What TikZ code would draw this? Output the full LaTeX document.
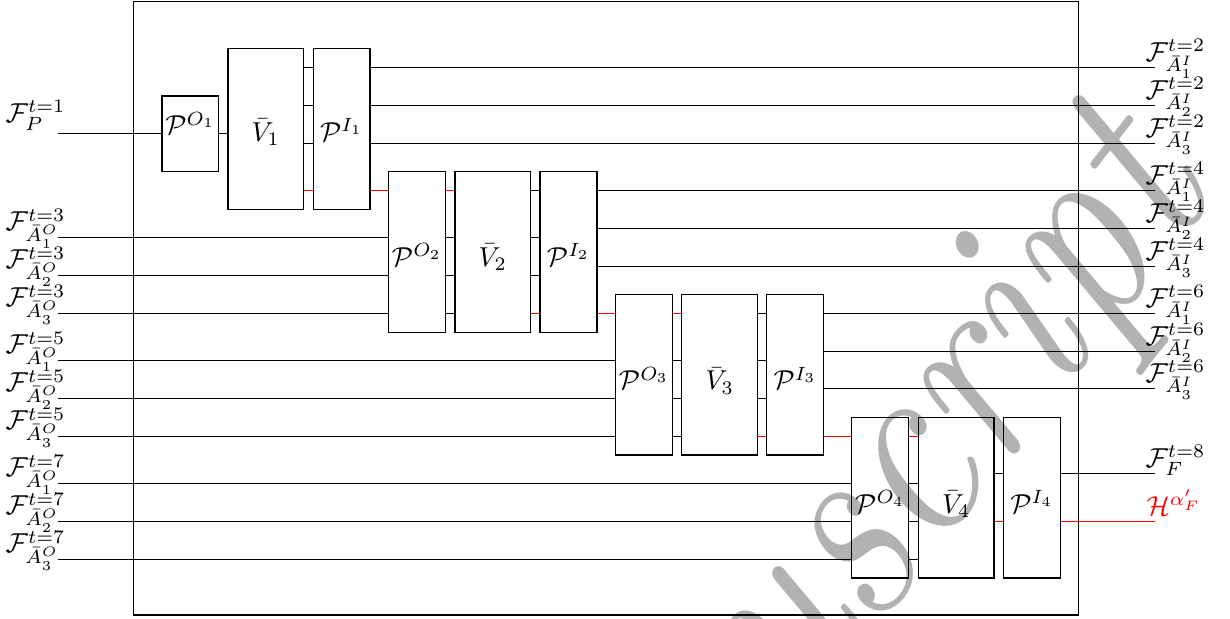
\documentclass[tikz,border=0pt]{standalone}
\usepackage{fontspec}
\usetikzlibrary{fit}
\begin{document}
\begin{tikzpicture}[x=0.365pt,y=-0.365pt,
  blk/.style={draw, inner sep=0pt},
  txt/.style={inner sep=0pt, anchor=base},
  lab/.style={inner sep=0pt},
  hid/.style={red}]
\useasboundingbox (0,0) rectangle (1230,619);
% watermark
\begin{scope}
\clip (0,0) rectangle (1230,619);
\node[rotate=52, xscale=0.85, anchor=base west, inner sep=0pt, text=black!30,
  font=\fontsize{100}{100}\selectfont\itshape\addfontfeature{FakeBold=1.5}] (wm) at (798,730) {uscript};
\end{scope}
% frame
\node[draw, inner sep=0pt, fit={(133.3,1.7)(1078.5,615)}] (frame) {};
% boxes
\node[blk, fit={(162,96)(218.7,171.7)}] (PO1) {};
\node[blk, fit={(228,48.3)(303.7,209.3)}] (V1) {};
\node[blk, fit={(313.3,48.3)(370,209.3)}] (PI1) {};
\node[blk, fit={(388.3,171.7)(445.7,332.3)}] (PO2) {};
\node[blk, fit={(455,171.7)(530.7,332.3)}] (V2) {};
\node[blk, fit={(540,171.7)(597,332.3)}] (PI2) {};
\node[blk, fit={(615.7,294.3)(672.3,455)}] (PO3) {};
\node[blk, fit={(681.7,294.3)(757.7,455)}] (V3) {};
\node[blk, fit={(766.7,294.3)(823.7,455)}] (PI3) {};
\node[blk, fit={(851.7,417.3)(908.7,578)}] (PO4) {};
\node[blk, fit={(918.3,417.3)(994,578)}] (V4) {};
\node[blk, fit={(1003.3,417.3)(1060.3,578)}] (PI4) {};
% box texts
\node[txt] at (190.35,135) {$\mathcal{P}^{O_1}$};
\node[txt] at (265.85,141.5) {$\bar{V}_1$};
\node[txt] at (341.65,141.5) {$\mathcal{P}^{I_1}$};
\node[txt] at (417,266.5) {$\mathcal{P}^{O_2}$};
\node[txt] at (492.85,266.5) {$\bar{V}_2$};
\node[txt] at (568.5,266.5) {$\mathcal{P}^{I_2}$};
\node[txt] at (644,390) {$\mathcal{P}^{O_3}$};
\node[txt] at (719.7,390) {$\bar{V}_3$};
\node[txt] at (795.2,390) {$\mathcal{P}^{I_3}$};
\node[txt] at (880.2,513.5) {$\mathcal{P}^{O_4}$};
\node[txt] at (956.15,513.5) {$\bar{V}_4$};
\node[txt] at (1031.8,513.5) {$\mathcal{P}^{I_4}$};
% input coordinates and labels
\coordinate (iP) at (58.3,133.5);
\node[lab, anchor=base east] at (66,122.7) {$\mathcal{F}^{t=1}_{P}$};
\foreach \t/\ya/\yb/\yc in {3/237.5/275.5/313.5, 5/360.5/398.5/436.5, 7/483.5/521.5/559.5}{
  \coordinate (i\t a) at (58.3,\ya);
  \coordinate (i\t b) at (58.3,\yb);
  \coordinate (i\t c) at (58.3,\yc);
  \node[lab, anchor=base east] at (66,\ya-6.5) {$\mathcal{F}^{t=\t}_{\bar{A}^O_1}$};
  \node[lab, anchor=base east] at (66,\yb-6.5) {$\mathcal{F}^{t=\t}_{\bar{A}^O_2}$};
  \node[lab, anchor=base east] at (66,\yc-6.5) {$\mathcal{F}^{t=\t}_{\bar{A}^O_3}$};
}
% output coordinates and labels
\foreach \t/\ya/\yb/\yc in {2/67.5/105.5/143.5, 4/190.5/228.5/266.5, 6/313.5/351.5/388.5}{
  \coordinate (o\t a) at (1154.5,\ya);
  \coordinate (o\t b) at (1154.5,\yb);
  \coordinate (o\t c) at (1154.5,\yc);
  \node[lab, anchor=base west] at (1145,\ya-6) {$\mathcal{F}^{t=\t}_{\bar{A}^I_1}$};
  \node[lab, anchor=base west] at (1145,\yb-6) {$\mathcal{F}^{t=\t}_{\bar{A}^I_2}$};
  \node[lab, anchor=base west] at (1145,\yc-6) {$\mathcal{F}^{t=\t}_{\bar{A}^I_3}$};
}
\coordinate (oF) at (1154.5,473.5);
\coordinate (oH) at (1154.5,521.5);
\node[lab, anchor=base west] at (1145,467.7) {$\mathcal{F}^{t=8}_{F}$};
\node[lab, anchor=base west, text=red] at (1146,515.3) {$\mathcal{H}^{\alpha'_F}$};
% group 1 wires
\draw (iP) -- (PO1.west |- iP);
\draw (PO1.east |- iP) -- (V1.west |- iP);
\foreach \y in {67.5,105.5,143.5}{
  \draw (V1.east |- 0,\y) -- (PI1.west |- 0,\y);
}
\draw (PI1.east |- o2a) -- (o2a);
\draw (PI1.east |- o2b) -- (o2b);
\draw (PI1.east |- o2c) -- (o2c);
\draw[hid] (V1.east |- 0,190.5) -- (PI1.west |- 0,190.5);
\draw[hid] (PI1.east |- 0,190.5) -- (PO2.west |- 0,190.5);
% group 2 wires
\draw (i3a) -- (PO2.west |- i3a);
\draw (i3b) -- (PO2.west |- i3b);
\draw (i3c) -- (PO2.west |- i3c);
\draw[hid] (PO2.east |- 0,190.5) -- (V2.west |- 0,190.5);
\foreach \y in {237.5,275.5,313.5}{
  \draw (PO2.east |- 0,\y) -- (V2.west |- 0,\y);
}
\foreach \y in {190.5,237.5,275.5}{
  \draw (V2.east |- 0,\y) -- (PI2.west |- 0,\y);
}
\draw[hid] (V2.east |- 0,313.5) -- (PI2.west |- 0,313.5);
\draw (PI2.east |- o4a) -- (o4a);
\draw (PI2.east |- o4b) -- (o4b);
\draw (PI2.east |- o4c) -- (o4c);
\draw[hid] (PI2.east |- 0,313.5) -- (PO3.west |- 0,313.5);
% group 3 wires
\draw (i5a) -- (PO3.west |- i5a);
\draw (i5b) -- (PO3.west |- i5b);
\draw (i5c) -- (PO3.west |- i5c);
\draw[hid] (PO3.east |- 0,313.5) -- (V3.west |- 0,313.5);
\foreach \y in {360.5,398.5,436.5}{
  \draw (PO3.east |- 0,\y) -- (V3.west |- 0,\y);
}
\foreach \y in {313.5,360.5,398.5}{
  \draw (V3.east |- 0,\y) -- (PI3.west |- 0,\y);
}
\draw[hid] (V3.east |- 0,436.5) -- (PI3.west |- 0,436.5);
\draw (PI3.east |- o6a) -- (o6a);
\draw (PI3.east |- o6b) -- (o6b);
\draw (PI3.east |- o6c) -- (o6c);
\draw[hid] (PI3.east |- 0,436.5) -- (PO4.west |- 0,436.5);
% group 4 wires
\draw (i7a) -- (PO4.west |- i7a);
\draw (i7b) -- (PO4.west |- i7b);
\draw (i7c) -- (PO4.west |- i7c);
\draw[hid] (PO4.east |- 0,436.5) -- (V4.west |- 0,436.5);
\foreach \y in {483.5,521.5,559.5}{
  \draw (PO4.east |- 0,\y) -- (V4.west |- 0,\y);
}
\draw (V4.east |- oF) -- (PI4.west |- oF);
\draw[hid] (V4.east |- oH) -- (PI4.west |- oH);
\draw (PI4.east |- oF) -- (oF);
\draw[hid] (PI4.east |- oH) -- (oH);
\end{tikzpicture}
\end{document}
